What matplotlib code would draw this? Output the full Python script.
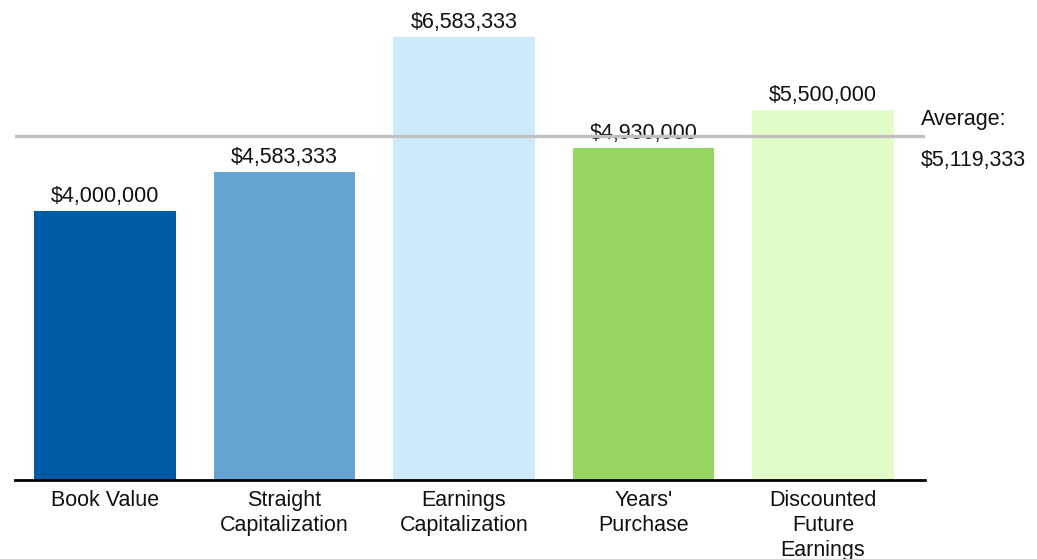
import matplotlib
matplotlib.use('Agg')
import matplotlib.pyplot as plt

plt.rcParams['font.family'] = ['Liberation Sans', 'DejaVu Sans']

# valuation methods and their results
methods = ['Book Value', 'Straight\nCapitalization', 'Earnings\nCapitalization',
           "Years'\nPurchase", 'Discounted\nFuture\nEarnings']
values = [4000000, 4583333, 6583333, 4930000, 5500000]
colors = ['#005ba6', '#65a3d2', '#cceafc', '#98d662', '#e2fcc8']

average = sum(values) / len(values)

fig = plt.figure(figsize=(10.37, 5.59), dpi=100)
ax = fig.add_axes([15 / 1037, 79 / 559, 910 / 1037, 480 / 559])

x = range(len(values))
bars = ax.bar(x, values, width=0.79, color=colors, zorder=2)

for xi, v in zip(x, values):
    ax.annotate(f'${v:,.0f}', (xi, v), xytext=(0, 3), textcoords='offset points',
                ha='center', va='bottom', fontsize=15.5, color='#111111', zorder=3)

# average line goes over everything, including labels
ax.axhline(average, color='#c0c0c0', linewidth=2.4, zorder=5)
ax.annotate('Average:', (1, average), xycoords=('axes fraction', 'data'),
            xytext=(-3, 4), textcoords='offset points', ha='left', va='bottom',
            fontsize=15.5, color='#111111', annotation_clip=False)
ax.annotate(f'${average:,.0f}', (1, average), xycoords=('axes fraction', 'data'),
            xytext=(-3, -10), textcoords='offset points', ha='left', va='top',
            fontsize=15.5, color='#111111', annotation_clip=False)

ax.set_xlim(-0.501, 4.568)
ax.set_ylim(0, 7.137e6)
ax.set_xticks(list(x))
ax.set_xticklabels(methods, fontsize=15.5, linespacing=1.25, color='#111111')
ax.tick_params(axis='x', length=0, pad=7)
ax.set_yticks([])
for side in ['top', 'right', 'left']:
    ax.spines[side].set_visible(False)
ax.spines['bottom'].set_linewidth(2)
ax.spines['bottom'].set_color('black')
ax.patch.set_alpha(0)

fig.savefig('out.png', dpi=100)
